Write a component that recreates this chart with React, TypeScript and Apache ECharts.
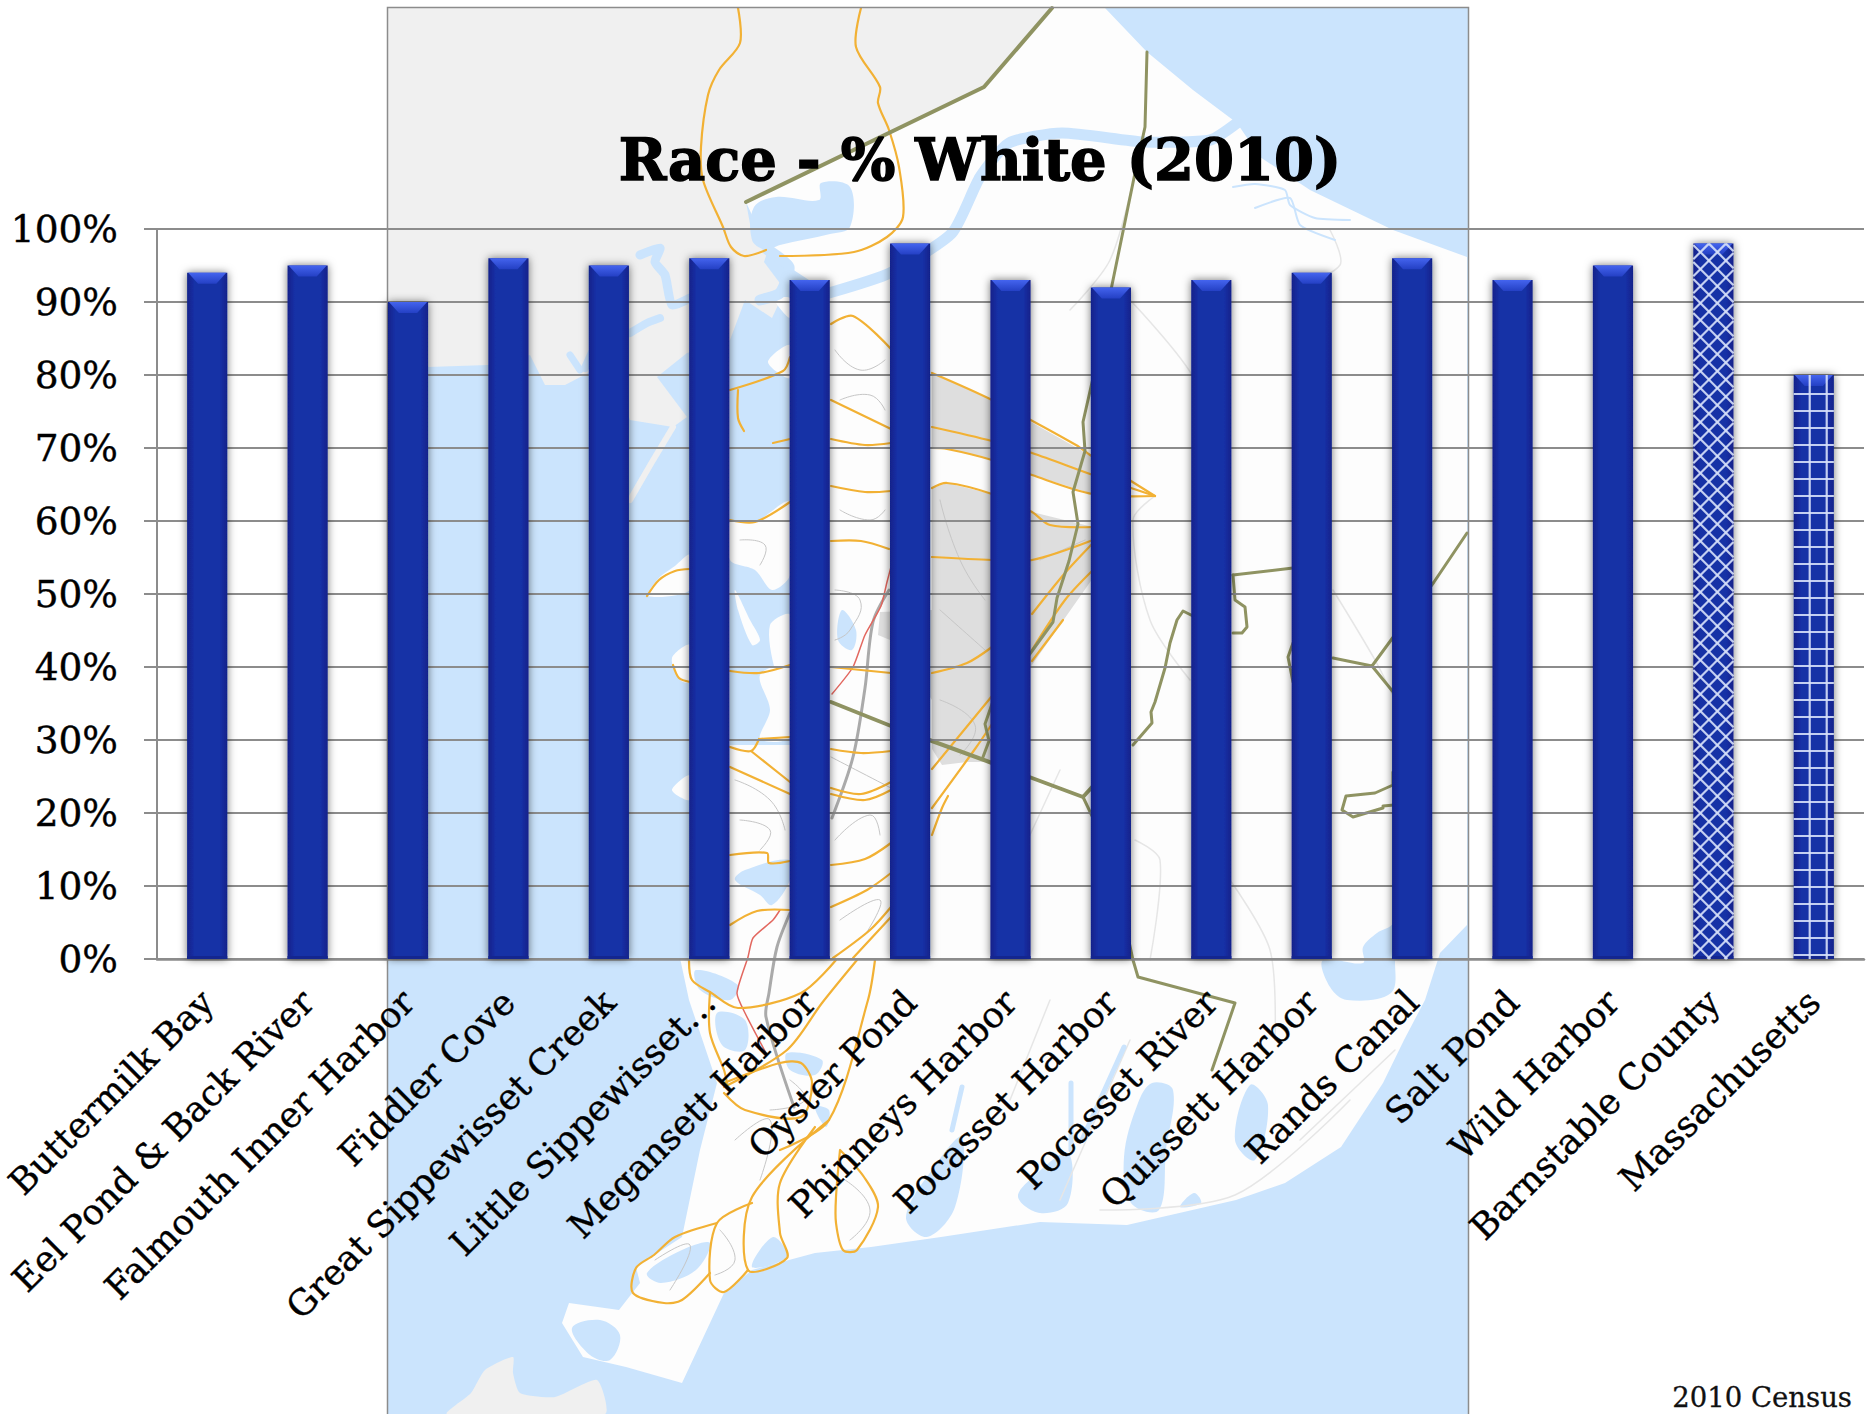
import React, { useEffect, useRef } from "react";
import * as echarts from "echarts";

const categories = ["Buttermilk Bay","Eel Pond & Back River","Falmouth Inner Harbor","Fiddler Cove","Great Sippewisset Creek","Little Sippewisset…","Megansett Harbor","Oyster Pond","Phinneys Harbor","Pocasset Harbor","Pocasset River","Quissett Harbor","Rands Canal","Salt Pond","Wild Harbor","Barnstable County","Massachusetts"];
const whitePercent = [94,95,90,96,95,96,93,98,93,92,93,94,96,93,95,98,80];
const barPatterns = ["","","","","","","","","","","","","","","","cross","grid"];
const titleText = "Race - % White (2010)";
const sourceText = "2010 Census";

type P = number[][];
const WATER = "#cbe4fd", LAND = "#fdfdfd", GREY = "#f0f0f0", DARKLAND = "#dedede";
const ORANGE = "#f2b134", OLIVE = "#8f9362", ROAD = "#e6e6e6", SERIF = "'DejaVu Serif', serif";

const whiteLand: P = [[1052,8],[1105,8],[1147,52],[1193,90],[1237,123],[1260,157],[1310,190],[1393,230],[1467,257],[1467,925],[1440,953],[1425,1000],[1404,1040],[1383,1083],[1341,1147],[1285,1183],[1236,1200],[1127,1225],[1040,1222],[941,1237],[871,1247],[815,1253],[752,1270],[724,1293],[682,1383],[626,1367],[583,1357],[562,1323],[569,1303],[619,1310],[640,1283],[636,1267],[682,1237],[700,1150],[717,1083],[689,1000],[680,958],[730,958],[730,745],[810,745],[815,320],[829,293],[789,267],[768,250],[746,202],[984,87]];
const greyLand: P = [[388,8],[1052,8],[984,87],[746,202],[752,235],[768,250],[764,262],[785,290],[772,318],[745,300],[730,340],[687,353],[657,377],[687,417],[673,427],[630,420],[618,388],[590,372],[565,385],[545,385],[530,355],[488,365],[428,367],[388,368]];
const greySpit: P = [[673,427],[652,462],[630,500]];
const greyIsland: P = [[513,1357],[485,1370],[471,1393],[447,1414],[605,1414],[597,1380],[555,1397],[520,1393],[513,1373]];
const waterPolys: P[] = [
  [[754,207],[776,197],[819,200],[821,183],[850,187],[850,227],[830,234],[780,245],[766,250],[752,240]],
  [[1152,1083],[1173,1090],[1166,1150],[1159,1210],[1131,1203],[1124,1157],[1138,1103]],
  [[934,1167],[962,1137],[955,1207],[927,1237],[906,1217]],
  [[1033,1177],[1068,1153],[1068,1203],[1040,1213],[1018,1197]],
  [[1393,890],[1393,923],[1377,933],[1363,947],[1363,963],[1323,960],[1330,987],[1347,1000],[1391,993],[1395,960]],
  [[1250,1085],[1268,1105],[1255,1160],[1235,1140]],
  [[1194,1193],[1180,1207],[1201,1203]],
  [[772,905],[790,880],[790,860],[745,870],[735,880],[760,895]],
  [[842,610],[856,630],[852,650],[838,640]],
  [[572,1328],[600,1320],[620,1335],[610,1360],[590,1355]],
  [[647,1273],[682,1250],[710,1243],[696,1270],[661,1283]],
  [[773,1237],[787,1257],[752,1267]],
  [[696,970],[738,985],[730,1000],[700,990]],
  [[717,1013],[745,1020],[745,1050],[722,1045]],
  [[787,1053],[822,1060],[815,1075],[790,1070]],
  [[815,1107],[829,1110],[826,1127]],
];
const waterLines: [P, number][] = [
  [[[829,293],[890,273],[952,233],[980,177],[1009,143],[1062,133],[1144,142],[1210,140],[1237,123]], 11],
  [[[640,255],[660,248],[655,262],[665,275],[672,305],[690,298]], 9],
  [[[768,250],[789,267],[780,293],[760,300]], 11],
  [[[570,355],[580,370]], 7], [[[592,352],[585,368]], 8], [[[630,333],[647,323],[660,318]], 8],
  [[[962,1087],[952,1130]], 5], [[[1071,1083],[1071,1150]], 5], [[[1124,1047],[1082,1140]], 5],
  [[[1233,187],[1255,184],[1285,190],[1290,205],[1315,218],[1350,220]], 2],
  [[[1255,208],[1290,198],[1300,225],[1335,240]], 2],
];
const landPatches: P[] = [
  [[775,300],[790,298],[790,318]], [[768,362],[790,345],[790,378]],
  [[730,522],[755,522],[790,502],[790,575],[772,590],[755,570],[730,560]],
  [[735,590],[750,620],[760,640],[752,645],[738,610]],
  [[770,625],[790,615],[790,700],[775,670]], [[760,675],[790,665],[790,737],[760,739],[770,710]],
  [[648,596],[659,578],[675,566],[690,555],[690,590]],
  [[672,658],[690,645],[690,682],[680,680]],
  [[672,790],[690,775],[690,800]],
];
const darkLand: P[] = [
  [[932,373],[992,400],[1093,457],[1093,494],[1032,475],[992,460],[947,449],[932,448]],
  [[932,488],[947,483],[992,494],[1032,512],[1093,527],[1093,578],[1032,665],[1000,720],[992,762],[967,762],[942,765],[932,749],[932,700],[890,640],[878,635],[880,612],[932,610]],
];
const orangeLines: P[] = [
  [[738,8],[740,43],[719,70],[708,95],[701,147],[703,180],[723,227],[731,247],[744,256],[766,250]],
  [[780,256],[854,252],[887,237],[903,217],[899,167],[889,130],[878,103],[880,87],[856,47],[861,8]],
  [[932,373],[992,400],[1076,445],[1093,457],[1155,496]],
  [[932,427],[992,441],[1032,453],[1093,475],[1155,496]],
  [[932,448],[947,449],[992,460],[1032,475],[1093,494],[1155,496]],
  [[932,488],[947,483],[992,494],[1032,512],[1050,525],[1093,527]],
  [[932,557],[992,560],[1032,560],[1093,540]],
  [[1032,614],[1065,573],[1093,543]], [[1032,661],[1063,620]],[[1032,650],[1065,600],[1093,570]],
  [[831,486],[865,492],[891,491]], [[831,541],[861,541],[889,549]],
  [[831,667],[891,673]], [[932,673],[967,663],[992,647]],
  [[730,520],[755,522],[790,502]], [[730,671],[759,673],[790,665]],
  [[831,324],[853,316],[891,349]], [[831,400],[891,429]], [[831,439],[865,445],[891,443]],
  [[647,596],[659,580],[675,571],[690,569]], [[673,665],[679,678],[690,682]],
  [[730,390],[783,371],[790,357]], [[738,390],[738,418],[744,431]], [[773,443],[790,439]],
  [[759,739],[790,737]], [[730,747],[751,751],[759,739]], [[751,751],[790,782]], [[730,767],[790,794]],
  [[730,855],[767,853],[769,863],[790,861]],
  [[831,749],[861,753],[891,751]], [[831,788],[861,794],[891,782]], [[831,794],[865,800],[891,790]],
  [[831,865],[865,859],[891,843]], [[932,769],[992,696]], [[932,808],[975,749],[992,724]], [[932,835],[942,808],[948,796]],
  [[730,925],[757,911],[790,910]], [[831,907],[867,890],[891,873]], [[833,958],[870,930],[891,907]],[[853,958],[891,917]],
  [[689,960],[692,980],[710,992],[738,1008],[801,993],[836,960]],
  [[710,992],[710,1033],[724,1070],[727,1083]],
  [[875,960],[868,1000],[829,1120],[780,1150]],
  [[857,960],[822,1003],[787,1050],[724,1087]],
  [[724,1093],[745,1110],[801,1117],[812,1083],[801,1063],[780,1063],[724,1083]],
  [[829,1120],[752,1197],[748,1270],[787,1258],[780,1233],[780,1183],[815,1127]],
  [[840,1150],[864,1177],[878,1207],[857,1250],[843,1250],[836,1223],[836,1197],[840,1150]],
  [[752,1203],[717,1223],[710,1280],[724,1292],[748,1270]],
  [[717,1223],[675,1237],[654,1255],[636,1268],[633,1293],[664,1303],[682,1300],[710,1273]],
];
const oliveLines: [P, number][] = [
  [[[1052,8],[984,87],[746,202]], 4],
  [[[1147,52],[1145,127],[1135,173],[1112,285],[1093,378],[1083,422],[1085,451],[1073,492],[1078,524],[1069,561],[1057,598],[1053,622],[1032,651],[992,704],[985,724],[989,741],[983,757]], 3],
  [[[831,702],[891,726],[932,741],[992,763],[1032,778],[1083,797],[1093,786]], 4],
  [[[1083,797],[1093,818],[1120,900],[1133,960],[1138,977],[1235,1003],[1212,1070]], 3],
  [[[1133,745],[1152,723],[1151,712],[1155,702],[1165,668],[1170,643],[1177,620],[1183,611],[1193,616]], 3],
  [[[1233,575],[1293,568]], 3], [[[1233,575],[1235,600],[1245,607],[1247,627],[1242,633],[1233,633]], 3],
  [[[1293,643],[1288,657],[1293,682]], 3],
  [[[1333,658],[1372,666],[1394,636],[1434,582],[1467,533]], 3], [[[1372,666],[1394,693]], 3],
  [[[1393,772],[1393,785],[1375,793],[1346,796],[1342,810],[1353,817],[1383,808],[1383,806],[1394,805]], 3],
];
const roadLines: P[] = [
  [[1135,173],[1110,260],[1070,310]], [[1130,300],[1195,380],[1220,470]], [[1155,496],[1133,520],[1150,620],[1190,680]],
  [[1333,590],[1375,660],[1395,700]], [[1135,840],[1160,860],[1150,960]], [[1230,880],[1270,950],[1275,1040]],
  [[1000,900],[1060,770]], [[1010,1100],[1050,1000]], [[1060,1200],[1130,1040]], [[1330,230],[1340,265],[1290,290]],
  [[1395,1050],[1300,1140]], [[1100,1210],[1235,1195],[1350,1100]],
];
const redLines: P[] = [
  [[891,567],[887,582],[881,606],[865,635],[853,667],[832,694]],
  [[780,910],[773,920],[753,938],[748,957],[737,993],[745,1013],[766,1053]],
];
const highwayLines: P[] = [
  [[889,590],[873,622],[865,688],[853,757],[832,818]], [[790,913],[777,947],[769,993],[766,1017],[794,1107]],
];
const streetLines: P[] = [
  [[831,757],[891,788]], [[835,350],[860,370],[885,360]], [[840,400],[870,395],[885,410]], [[840,510],[870,520],[885,510]],
  [[835,590],[860,600],[850,630],[835,640]], [[740,540],[765,545],[760,565]], [[735,780],[770,800],[785,830]],
  [[740,820],[770,830],[760,850]], [[835,840],[870,815],[880,835]], [[940,700],[975,725],[960,755]],
  [[940,500],[960,560],[985,600]], [[940,610],[985,650]], [[1040,560],[1085,540]], [[840,920],[880,900],[865,935]],
  [[735,1140],[770,1120],[760,1180]], [[845,1180],[870,1210],[850,1240]], [[790,1080],[805,1100],[770,1110]],
  [[655,1260],[690,1245],[670,1290]], [[720,1230],[735,1260],[715,1275]],
];

const poly = (pts: P, fill: string, smooth = 0) => ({ type: "polygon", silent: true, z: -10, shape: { points: pts, smooth }, style: { fill } });
const line = (pts: P, stroke: string, lineWidth: number, smooth = 0) => ({
  type: "polyline", silent: true, z: -9, shape: { points: pts, smooth }, style: { stroke, lineWidth, fill: "none", lineJoin: "round", lineCap: "round" },
});

const mapElements = [
  { type: "rect", silent: true, z: -11, shape: { x: 388, y: 8, width: 1080, height: 1406 }, style: { fill: WATER } },
  poly(whiteLand, LAND), poly(greyLand, GREY), poly(greyIsland, GREY, 0.2), line(greySpit, GREY, 6),
  ...darkLand.map((p) => poly(p, DARKLAND)),
  ...landPatches.map((p) => poly(p, LAND, 0.3)),
  ...roadLines.map((p) => line(p, ROAD, 1.5, 0.3)),
  ...waterPolys.map((p) => poly(p, WATER, 0.35)),
  ...waterLines.map(([p, w]) => line(p, WATER, w, 0.2)),
  ...streetLines.map((p) => line(p, "#c6c6c6", 1, 0.5)),
  ...highwayLines.map((p) => line(p, "#aaaaaa", 3, 0.3)),
  ...redLines.map((p) => line(p, "#e2675f", 1.5, 0.2)),
  ...orangeLines.map((p) => line(p, ORANGE, 2.2, 0.3)),
  ...oliveLines.map(([p, w]) => line(p, OLIVE, w)),
  { type: "rect", silent: true, z: -8, shape: { x: 387.5, y: 7.5, width: 1081, height: 1412 }, style: { fill: "none", stroke: "#8c8c8c", lineWidth: 1.5 } },
  { type: "text", z: 20, silent: true, x: 1852, y: 1397, style: { text: sourceText, font: `27.5px ${SERIF}`, fill: "#111", align: "right", verticalAlign: "middle", stroke: "#111", lineWidth: 0.3 } },
];

function renderBar(params: any, api: any) {
  const i = api.value(0);
  const value = api.value(1);
  const [cx, top] = api.coord([i, value]);
  const [, bottom] = api.coord([i, 0]);
  const w = api.size([1, 0])[0] * 0.4;
  const x = cx - w / 2;
  const h = bottom - top;
  const bevel = 11;
  const hgrad = new echarts.graphic.LinearGradient(0, 0, 1, 0, [
    { offset: 0, color: "#11228a" }, { offset: 0.18, color: "#1830a6" }, { offset: 0.82, color: "#1830a6" }, { offset: 1, color: "#11228a" },
  ]);
  const vgrad = new echarts.graphic.LinearGradient(0, 0, 0, 1, [
    { offset: 0, color: "#4464ee" }, { offset: 1, color: "#2440c4" },
  ]);
  const children: any[] = [
    { type: "rect", shape: { x, y: top, width: w, height: h }, style: { fill: hgrad, shadowBlur: 9, shadowColor: "rgba(0,0,0,0.55)" } },
    { type: "polygon", shape: { points: [[x + 1, top], [x + w - 1, top], [x + w - bevel, top + bevel], [x + bevel, top + bevel]] }, style: { fill: vgrad } },
    { type: "rect", shape: { x, y: bottom - 3, width: w, height: 3 }, style: { fill: "#14268f" } },
  ];
  const stroke = "rgba(214,224,250,0.9)";
  const seg = (x1: number, y1: number, x2: number, y2: number) => ({ type: "line", shape: { x1, y1, x2, y2 }, style: { stroke, lineWidth: 2.2 } });
  const pattern = barPatterns[params.dataIndex];
  if (pattern === "grid") {
    for (let px = x + 16; px < x + w; px += 17) children.push(seg(px, top, px, bottom));
    for (let py = bottom - 4; py > top + 6; py -= 17) children.push(seg(x, py, x + w, py));
  } else if (pattern === "cross") {
    const period = 17;
    for (let c = -h; c < w + h; c += period) {
      const a = Math.max(0, -c), b = Math.min(h, w - c);
      if (b > a) children.push(seg(x + c + a, top + a, x + c + b, top + b));
      const a2 = Math.max(0, c - w), b2 = Math.min(h, c);
      if (b2 > a2) children.push(seg(x + c - a2, top + a2, x + c - b2, top + b2));
    }
  }
  return { type: "group", children };
}

export default function App() {
  const ref = useRef<HTMLDivElement>(null);
  useEffect(() => {
    const chart = echarts.init(ref.current!, undefined, { renderer: "svg" });
    chart.setOption({
      animation: false,
      backgroundColor: "#ffffff",
      title: {
        text: titleText, left: 975, top: 126, textAlign: "center", z: 20,
        textStyle: { fontFamily: SERIF, fontWeight: "bold", fontSize: 57.5, color: "#000", textBorderColor: "#000", textBorderWidth: 1.5 },
      },
      grid: { left: 157, right: 8, top: 229, bottom: 455, outerBoundsMode: "none" },
      xAxis: {
        type: "category", data: categories, boundaryGap: true,
        axisLine: { lineStyle: { color: "#8c8c8c", width: 2.5 } },
        axisTick: { alignWithLabel: false, length: 12, lineStyle: { color: "#8c8c8c", width: 2 } },
        axisLabel: { interval: 0, rotate: 45, margin: 37, fontFamily: SERIF, fontSize: 35.5, color: "#000", textBorderColor: "#000", textBorderWidth: 0.4 },
      },
      yAxis: {
        type: "value", min: 0, max: 100, interval: 10,
        axisLine: { show: true, lineStyle: { color: "#8c8c8c", width: 2 } },
        axisTick: { show: true, length: 13, lineStyle: { color: "#8c8c8c", width: 2 } },
        axisLabel: { margin: 39, formatter: "{value}%", fontFamily: SERIF, fontSize: 37.5, color: "#000", textBorderColor: "#000", textBorderWidth: 0.4 },
        splitLine: { show: true, lineStyle: { color: "#8c8c8c", width: 2 } },
      },
      graphic: mapElements,
      series: [{
        type: "custom", renderItem: renderBar, encode: { x: 0, y: 1 }, clip: false,
        data: whitePercent.map((v, i) => [i, v]),
      }],
    });
    return () => chart.dispose();
  }, []);
  return <div ref={ref} style={{ position: "absolute", left: 0, top: 0, width: 1872, height: 1414 }} />;
}
